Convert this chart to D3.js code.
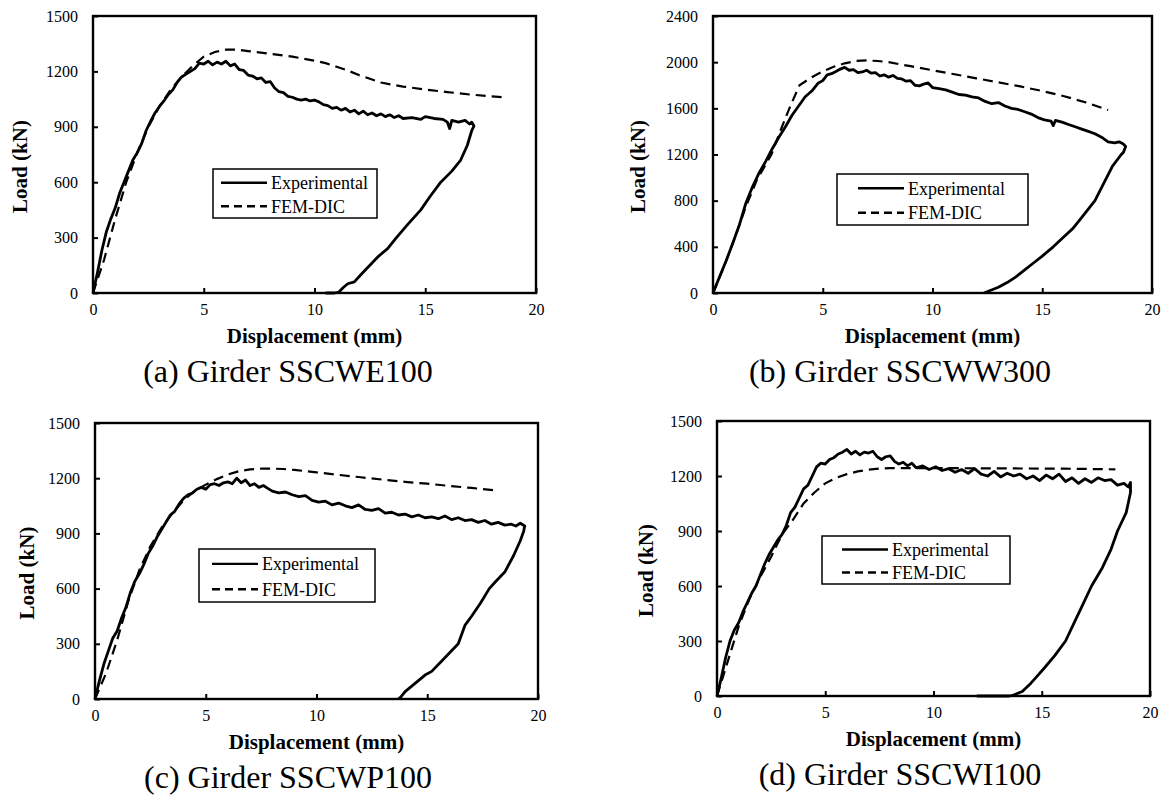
<!DOCTYPE html>
<html>
<head>
<meta charset="utf-8">
<script src="https://cdn.jsdelivr.net/npm/d3@7"></script>
<style>
  body { margin: 0; background: #fff; }
  svg text { font-family: "Liberation Serif", "Times New Roman", serif; fill: #000; }
</style>
</head>
<body>
<div id="fig"></div>
<script>
// load-displacement curves, [displacement mm, load kN]

var xTicks = [0, 5, 10, 15, 20];
var ticksA = [0, 300, 600, 900, 1200, 1500];
var ticksB = [0, 400, 800, 1200, 1600, 2000, 2400];
var legendNames = ['Experimental', 'FEM-DIC'];
var captions = ['(a) Girder SSCWE100', '(b) Girder SSCWW300', '(c) Girder SSCWP100', '(d) Girder SSCWI100'];

var expA = [[0,0],[0.2,110],[0.4,230],[0.6,330],[0.8,400],[1.0,460],[1.2,540],[1.4,600],[1.6,660],[1.8,720],[2.0,760],
  [2.2,810],[2.4,880],[2.6,930],[2.8,975],[3.0,1010],[3.2,1040],[3.4,1075],[3.6,1100],[3.8,1140],[4.0,1170],[4.2,1185],
  [4.4,1200],[4.6,1215],[4.8,1245],[5.0,1240],[5.2,1255],[5.4,1235],[5.6,1250],[5.8,1240],[6.0,1255],[6.2,1230],[6.4,1240],
  [6.6,1210],[6.8,1205],[7.0,1180],[7.2,1175],[7.4,1160],[7.6,1165],[7.8,1140],[8.0,1145],[8.2,1110],[8.4,1090],[8.6,1085],
  [8.8,1065],[9.0,1060],[9.2,1050],[9.4,1045],[9.6,1050],[9.8,1040],[10.0,1045],[10.2,1035],[10.4,1020],[10.6,1015],
  [10.8,1000],[11.0,1005],[11.2,990],[11.4,1000],[11.6,980],[11.8,990],[12.0,970],[12.2,985],[12.4,965],[12.6,975],
  [12.8,960],[13.0,970],[13.2,955],[13.4,965],[13.6,950],[13.8,960],[14.0,945],[14.4,950],[14.8,940],[15.0,955],[15.4,945],
  [15.8,940],[16.0,925],[16.1,890],[16.2,935],[16.5,925],[16.8,935],[17.0,915],[17.1,925],[17.2,905],
  [17.1,880],[16.9,800],[16.6,720],[16.2,660],[15.7,600],[15.2,520],[14.8,450],[14.2,370],[13.7,300],[13.3,240],
  [12.9,200],[12.5,150],[12.1,100],[11.8,60],[11.5,50],[11.3,30],[11.1,5],[10.9,0],[10.5,0]];
var femA = [[0,0],[0.5,180],[1,400],[1.5,600],[2,760],[2.5,900],[3,1010],[3.5,1100],[4,1170],[4.5,1230],[5,1280],
  [5.5,1305],[6,1318],[6.5,1318],[7,1310],[8,1295],[9,1280],[10,1258],[10.5,1245],[11,1225],[11.5,1205],[12,1180],
  [12.5,1160],[13,1140],[13.5,1128],[14,1118],[15,1102],[16,1088],[17,1075],[18,1065],[18.7,1058]];

var expB = [[0,0],[0.3,140],[0.6,280],[0.9,430],[1.2,590],[1.5,780],[1.8,920],[2.1,1040],[2.4,1140],[2.7,1250],
  [3.0,1350],[3.3,1440],[3.6,1540],[3.9,1620],[4.2,1700],[4.5,1750],[4.8,1820],[5.0,1840],[5.2,1890],[5.4,1900],
  [5.6,1920],[5.8,1940],[6.0,1955],[6.2,1930],[6.4,1935],[6.6,1910],[6.8,1915],[7.0,1930],[7.2,1905],[7.4,1910],
  [7.6,1880],[7.8,1890],[8.0,1870],[8.2,1885],[8.4,1860],[8.6,1855],[8.8,1835],[9.0,1840],[9.2,1800],[9.4,1795],
  [9.6,1810],[9.8,1820],[10.0,1780],[10.3,1770],[10.6,1760],[10.9,1740],[11.2,1720],[11.5,1715],[11.8,1700],
  [12.1,1690],[12.4,1660],[12.7,1640],[13.0,1650],[13.3,1620],[13.6,1600],[13.9,1590],[14.2,1570],[14.5,1550],
  [14.8,1520],[15.1,1500],[15.4,1490],[15.5,1450],[15.6,1495],[15.9,1480],[16.2,1460],[16.5,1440],[16.8,1420],
  [17.1,1400],[17.4,1380],[17.7,1350],[18.0,1310],[18.3,1300],[18.5,1310],[18.7,1290],[18.8,1270],[18.7,1220],
  [18.6,1200],[18.2,1100],[17.8,950],[17.4,800],[16.9,680],[16.4,560],[16.0,490],[15.5,400],[15.0,320],[14.6,260],
  [14.2,200],[13.8,140],[13.4,90],[13.0,50],[12.6,20],[12.35,0]];
var femB = [[0,0],[0.5,230],[1,480],[1.5,750],[2,980],[2.66,1200],[3.1,1420],[3.48,1600],[3.94,1800],[4.5,1870],
  [5,1920],[5.5,1960],[6,1990],[6.5,2010],[7,2015],[7.5,2010],[8,2000],[9,1965],[10,1930],[11,1895],
  [12,1860],[13,1825],[14,1790],[15,1750],[16,1705],[17,1650],[18,1585]];

var expC = [[0,0],[0.2,100],[0.4,190],[0.6,260],[0.8,330],[1.0,370],[1.2,440],[1.4,500],[1.6,580],[1.8,640],[2.0,680],
  [2.2,730],[2.4,790],[2.6,830],[2.8,880],[3.0,920],[3.2,960],[3.4,1000],[3.6,1020],[3.8,1060],[4.0,1090],[4.2,1110],
  [4.4,1120],[4.6,1140],[4.8,1150],[5.0,1140],[5.2,1165],[5.4,1170],[5.6,1160],[5.8,1175],[6.0,1180],[6.2,1170],
  [6.4,1200],[6.6,1175],[6.8,1190],[7.0,1160],[7.2,1170],[7.4,1150],[7.6,1160],[7.8,1145],[8.0,1130],[8.3,1120],
  [8.6,1125],[8.9,1110],[9.2,1100],[9.5,1105],[9.8,1080],[10.1,1070],[10.4,1075],[10.7,1055],[11.0,1065],[11.3,1050],
  [11.6,1040],[11.9,1055],[12.2,1030],[12.5,1025],[12.8,1035],[13.1,1010],[13.4,1015],[13.7,1000],[14.0,1005],
  [14.3,990],[14.6,1000],[14.9,985],[15.2,990],[15.5,980],[15.8,995],[16.1,975],[16.4,985],[16.7,970],[17.0,975],
  [17.3,960],[17.6,970],[17.9,950],[18.2,960],[18.5,945],[18.8,950],[19.0,940],[19.2,955],[19.4,940],[19.35,910],
  [19.2,860],[18.9,780],[18.5,690],[18.1,640],[17.8,600],[17.4,520],[17.0,450],[16.7,400],[16.4,300],[16.0,250],
  [15.6,200],[15.2,150],[14.9,130],[14.6,100],[14.3,70],[14.0,40],[13.8,10],[13.7,0]];
var femC = [[0,0],[0.5,140],[1,320],[1.5,530],[2,700],[2.5,830],[3,930],[3.5,1010],[4,1080],[4.5,1130],[5,1165],
  [5.5,1195],[6,1220],[6.5,1238],[7,1248],[7.5,1252],[8,1252],[8.5,1250],[9,1245],[10,1232],[11,1218],[12,1205],
  [13,1192],[14,1180],[15,1170],[16,1158],[17,1147],[18,1135]];

var expD = [[0,0],[0.2,100],[0.4,210],[0.6,300],[0.8,360],[1.0,400],[1.2,460],[1.4,510],[1.6,560],[1.8,600],[2.0,660],
  [2.2,720],[2.4,770],[2.6,810],[2.8,850],[3.0,880],[3.2,930],[3.4,1000],[3.6,1030],[3.8,1080],[4.0,1130],[4.2,1150],
  [4.4,1200],[4.6,1250],[4.8,1270],[5.0,1265],[5.2,1290],[5.4,1300],[5.6,1320],[5.8,1330],[6.0,1345],[6.2,1320],
  [6.4,1335],[6.6,1315],[6.8,1330],[7.0,1325],[7.2,1335],[7.4,1305],[7.6,1290],[7.8,1305],[8.0,1310],[8.2,1280],
  [8.4,1265],[8.6,1275],[8.8,1255],[9.0,1270],[9.2,1245],[9.5,1255],[9.8,1235],[10.1,1250],[10.4,1230],[10.7,1240],
  [11.0,1220],[11.3,1235],[11.6,1215],[11.9,1240],[12.2,1210],[12.5,1200],[12.8,1225],[13.1,1195],[13.4,1215],
  [13.7,1200],[14.0,1210],[14.3,1185],[14.6,1200],[14.9,1175],[15.2,1205],[15.5,1185],[15.8,1210],[16.1,1170],
  [16.4,1190],[16.7,1160],[17.0,1185],[17.3,1165],[17.6,1190],[17.9,1175],[18.2,1180],[18.5,1150],[18.8,1160],
  [19.0,1140],[19.1,1165],[19.1,1110],[18.9,1000],[18.5,900],[18.2,800],[17.8,700],[17.3,600],[16.9,500],[16.5,400],
  [16.1,300],[15.6,220],[15.1,150],[14.8,110],[14.5,70],[14.1,25],[13.7,5],[13.5,0],[12.0,0]];
var femD = [[0,0],[0.5,190],[1,380],[1.5,530],[2,650],[2.5,760],[3,880],[3.5,960],[4,1050],[4.5,1110],[5,1160],
  [5.5,1190],[6,1210],[6.5,1225],[7,1235],[7.5,1240],[8,1243],[10,1243],[12,1242],[14,1241],[16,1240],[18,1237],[18.4,1236]];

// layout of the four panels (pixels); legend = [x0, y0, x1, y1, sample line start]
var panels = [
  {left: 93,  top: 16,  width: 443, height: 277, yMax: 1500, yTicks: ticksA, exp: expA, fem: femA, caption: captions[0],
   capX: 288, ylabX: 20,  legend: [213, 169, 377, 218, 221]},
  {left: 713, top: 16,  width: 439, height: 277, yMax: 2400, yTicks: ticksB, exp: expB, fem: femB, caption: captions[1],
   capX: 900, ylabX: 638, legend: [837, 174, 1028, 225, 858]},
  {left: 95,  top: 423, width: 443, height: 276, yMax: 1500, yTicks: ticksA, exp: expC, fem: femC, caption: captions[2],
   capX: 288, ylabX: 27,  legend: [199, 549, 375, 602, 212]},
  {left: 717, top: 421, width: 433, height: 275, yMax: 1500, yTicks: ticksA, exp: expD, fem: femD, caption: captions[3],
   capX: 900, ylabX: 646, legend: [822, 536, 1010, 584, 842]}
];

var W = 1168, H = 795;
var svg = d3.select('#fig').append('svg').attr('width', W).attr('height', H);

function drawPanel(p) {
  var g = svg.append('g').attr('transform', 'translate(' + p.left + ',' + p.top + ')');
  var x = d3.scaleLinear().domain([0, 20]).range([0, p.width]);
  var y = d3.scaleLinear().domain([0, p.yMax]).range([p.height, 0]);

  var xAxis = g.append('g').attr('transform', 'translate(0,' + p.height + ')')
    .call(d3.axisBottom(x).tickValues(xTicks).tickFormat(d3.format('d'))
      .tickSizeInner(-5).tickSizeOuter(0).tickPadding(11));
  var yAxis = g.append('g')
    .call(d3.axisLeft(y).tickValues(p.yTicks).tickFormat(d3.format('d'))
      .tickSizeInner(-5).tickSizeOuter(0).tickPadding(15));
  [xAxis, yAxis].forEach(function(a) {
    a.attr('font-family', null).attr('font-size', null);
    a.select('.domain').remove();
    a.selectAll('line').attr('stroke', '#000').attr('stroke-width', 2);
    a.selectAll('text').style('font-size', '16px');
  });

  var line = d3.line().x(function(d) { return x(d[0]); }).y(function(d) { return y(d[1]); });

  g.append('path').datum(p.fem).attr('d', line)
    .attr('fill', 'none').attr('stroke', '#000').attr('stroke-width', 2.2).attr('stroke-dasharray', '10,6');
  g.append('path').datum(p.exp).attr('d', line)
    .attr('fill', 'none').attr('stroke', '#000').attr('stroke-width', 2.8).attr('stroke-linejoin', 'round');

  g.append('rect').attr('width', p.width).attr('height', p.height)
    .attr('fill', 'none').attr('stroke', '#000').attr('stroke-width', 2.4);

  // axis titles
  g.append('text').attr('x', p.width / 2).attr('y', p.height + 50)
    .attr('text-anchor', 'middle').style('font-size', '21px').style('font-weight', 'bold')
    .text('Displacement (mm)');
  svg.append('text').attr('transform', 'translate(' + p.ylabX + ',' + (p.top + p.height / 2 + 12) + ') rotate(-90)')
    .attr('text-anchor', 'middle').attr('dy', '0.35em').style('font-size', '21px').style('font-weight', 'bold')
    .text('Load (kN)');

  // legend
  var lb = p.legend;
  var lg = svg.append('g');
  lg.append('rect').attr('x', lb[0]).attr('y', lb[1]).attr('width', lb[2] - lb[0]).attr('height', lb[3] - lb[1])
    .attr('fill', '#fff').attr('stroke', '#000').attr('stroke-width', 1.5);
  var lh = lb[3] - lb[1];
  legendNames.forEach(function(name, i) {
    var ly = lb[1] + lh * (i == 0 ? 0.28 : 0.76);
    lg.append('line').attr('x1', lb[4]).attr('x2', lb[4] + 46).attr('y1', ly).attr('y2', ly)
      .attr('stroke', '#000').attr('stroke-width', 2.4).attr('stroke-dasharray', i == 0 ? null : '8,5');
    lg.append('text').attr('x', lb[4] + 50).attr('y', ly).attr('dy', '0.35em').style('font-size', '18px').text(name);
  });

  // caption
  svg.append('text').attr('x', p.capX).attr('y', p.top + p.height + 89)
    .attr('text-anchor', 'middle').style('font-size', '32px').text(p.caption);
}

panels.forEach(drawPanel);
</script>
</body>
</html>
